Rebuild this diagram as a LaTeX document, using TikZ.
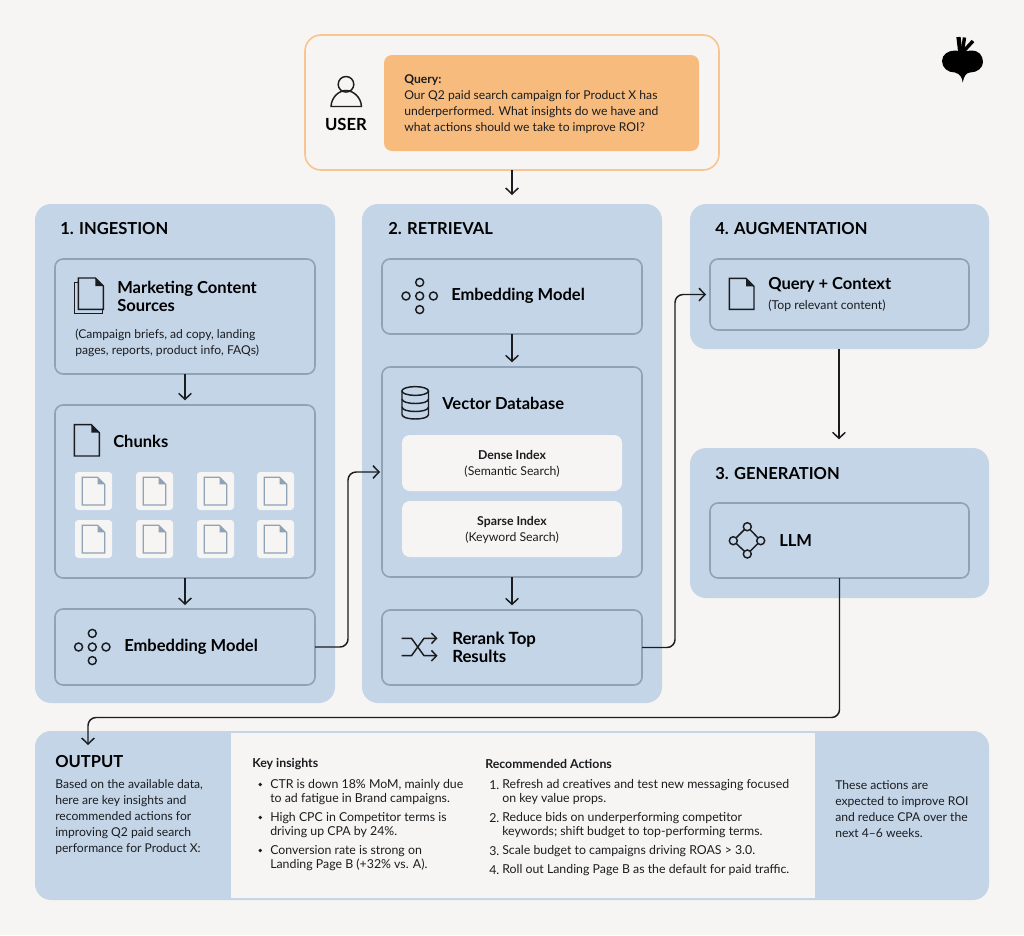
\documentclass[tikz,border=0pt]{standalone}
\usepackage{fontspec}
\setmainfont{Lato}
\usetikzlibrary{arrows.meta,shapes.geometric,calc}
\definecolor{bgc}{HTML}{F7F5F3}
\definecolor{panelc}{HTML}{C4D5E8}
\definecolor{edgec}{HTML}{8FA2B6}
\definecolor{inkc}{HTML}{1A1C1F}
\definecolor{orangec}{HTML}{F7BB7E}
\definecolor{orangeline}{HTML}{F9C48F}
\newcommand{\pbox}[6]{%
  \pgfmathsetmacro\bwd{(#4-#2)*0.75}\pgfmathsetmacro\bht{(#5-#3)*0.75}%
  \pgfmathsetmacro\bcx{(#2+#4)/2}\pgfmathsetmacro\bcy{(#3+#5)/2}%
  \node[#6,minimum width=\bwd pt,minimum height=\bht pt,inner sep=0pt,outer sep=0pt] (#1) at (\bcx,\bcy) {};}
% top-left x,y, width, height, fold, colour, line width, fill
\newcommand{\docicon}[8]{%
  \draw[draw=#6,line width=#7,fill=#8,line join=miter] (#1,#2) -- ++(#3-#5,0) -- ++(#5,#5) -- ++(0,#4-#5) -- ++(-#3,0) -- cycle;
  \fill[#6] (#1+#3-#5,#2) -- ++(#5,#5) -- ++(-#5,0) -- cycle;}
\newcommand{\embedicon}[2]{%
  \foreach \dx/\dy in {-13.7/0,0/0,13.7/0,0/-13.6,0/13.6}{\draw[icon] (#1+\dx,#2+\dy) circle[radius=4];}}
\tikzset{
  panel/.style={fill=panelc,draw=none,rounded corners=12pt},
  innerbox/.style={fill=panelc,draw=edgec,line width=1.2pt,rounded corners=6pt},
  softbox/.style={fill=bgc,draw=none,rounded corners=6pt},
  tile/.style={fill=bgc,draw=none,rounded corners=2.5pt},
  arr/.style={draw=inkc,line width=1.1pt,-{Straight Barb[length=4.5pt,width=9.5pt,line width=1.1pt]},rounded corners=6pt},
  icon/.style={draw=inkc,line width=1.1pt},
  head/.style={anchor=west,text=black,inner sep=0pt,font=\fontsize{12.4pt}{14pt}\selectfont\bfseries},
  sub/.style={anchor=west,text=inkc,inner sep=0pt,yshift=-0.75pt,align=left,font=\fontsize{9.1pt}{12pt}\selectfont},
  listt/.style={anchor=west,text=inkc,inner sep=0pt,yshift=-0.75pt,align=left,font=\fontsize{9.25pt}{10.5pt}\selectfont},
  small/.style={anchor=center,text=inkc,inner sep=0pt,yshift=-0.75pt,align=center,font=\fontsize{9.2pt}{12pt}\selectfont},
  x=0.75pt,y=-0.75pt
}
\begin{document}
\begin{tikzpicture}
\useasboundingbox (0,0) rectangle (1024,935);
\fill[bgc] (0,0) rectangle (1024,935);

% user
\pbox{user}{305}{35}{719}{170}{draw=orangeline,line width=1.2pt,fill=bgc,rounded corners=12pt}
\pbox{query}{384}{55}{699}{151}{fill=orangec,rounded corners=6pt}
\draw[icon] (346,84.3) circle[radius=7.8];
\draw[icon,line join=round] (331,106.5) -- (361.5,106.5) .. controls (361,97) and (353,90.5) .. (346,90.5) .. controls (339,90.5) and (331.5,97) .. (331,106.5) -- cycle;
\node[anchor=center,inner sep=0pt,text=black,font=\fontsize{12.5pt}{14pt}\selectfont\bfseries] (usertxt) at (346,124) {USER};
\node[sub] (querytxt) at (404,103) {\textbf{Query:}\\Our Q2 paid search campaign for Product X has\\underperformed. What insights do we have and\\what actions should we take to improve ROI?};

% logo
\fill[black] (962.7,82.5) .. controls (962,77) and (960,74) .. (955,72.5) .. controls (948,72.5) and (942,68) .. (942,61) .. controls (942,54) and (949,50.5) .. (955,50.5) .. controls (958,50.5) and (960,51.5) .. (962.5,52) .. controls (965,51.5) and (969,50.5) .. (972,50.5) .. controls (978,50.5) and (983,55) .. (983,62) .. controls (983,68) and (977,72.5) .. (970,72.5) .. controls (966,73) and (964,76) .. (962.7,82.5) -- cycle;
\draw[black,line width=3.2pt] (960.5,54) -- (958.5,37);
\draw[black,line width=2.6pt] (962.5,51) -- (964.5,37.5);
\draw[black,line width=2.6pt] (962,53) -- (973,41);

% panels
\pbox{pingest}{35}{204}{335}{703}{panel}
\pbox{pretr}{362}{204}{662}{703}{panel}
\pbox{paug}{690}{204}{989}{349}{panel}
\pbox{pgen}{690}{448}{989}{598}{panel}
\pbox{pout}{35}{731}{989}{900}{panel}
\pbox{pwhite}{231}{733}{815}{898}{fill=bgc}

\node[head] (t1) at (60,229) {1. INGESTION};
\node[head] (t2) at (388,229) {2. RETRIEVAL};
\node[head] (t4) at (715,229) {4. AUGMENTATION};
\node[head] (t3) at (715,474) {3. GENERATION};

% ingestion
\pbox{mkt}{55}{259}{315}{374}{innerbox}
\pbox{chunks}{55}{405}{315}{578}{innerbox}
\pbox{embA}{55}{609}{315}{685}{innerbox}
\draw[icon,line join=miter] (78.3,282.5) -- (74.3,282.5) -- (74.3,313.5) -- (102.7,313.5) -- (102.7,309.3);
\docicon{78.3}{278}{25}{31.3}{8}{inkc}{1.1pt}{panelc}
\node[head,align=left,font=\fontsize{12.4pt}{13.6pt}\selectfont\bfseries] (mkttxt) at (117,296) {Marketing Content\\Sources};
\node[sub] (mktsub) at (75,342) {(Campaign briefs, ad copy, landing\\pages, reports, product info, FAQs)};
\docicon{74.3}{424.7}{25}{31.3}{8}{inkc}{1.1pt}{panelc}
\node[head] (chunkstxt) at (113,441) {Chunks};
\foreach \cx in {75,136,197,257}{\foreach \cy in {472,520}{
  \fill[tile] (\cx,\cy) rectangle ++(37,38);
  \docicon{\cx+7.3}{\cy+5.3}{22.4}{27.7}{7}{edgec}{0.9pt}{bgc}
}}
\embedicon{92.3}{647}
\node[head] (embAtxt) at (124,647) {Embedding Model};

% retrieval
\pbox{embB}{382}{259}{642}{334}{innerbox}
\pbox{vec}{382}{367}{642}{577}{innerbox}
\pbox{rr}{382}{610}{642}{685}{innerbox}
\embedicon{419.7}{296}
\node[head] (embBtxt) at (451,296) {Embedding Model};
\draw[icon] (402,391) -- (402,414.5) .. controls (402,420.5) and (428.5,420.5) .. (428.5,414.5) -- (428.5,391);
\draw[icon] (415.2,391) ellipse[x radius=13.3,y radius=4.4];
\draw[icon] (402,399) .. controls (402,405) and (428.5,405) .. (428.5,399);
\draw[icon] (402,407) .. controls (402,413) and (428.5,413) .. (428.5,407);
\node[head] (vectxt) at (442,403) {Vector Database};
\pbox{dense}{402}{435}{622}{491}{softbox}
\pbox{sparse}{402}{501}{622}{557}{softbox}
\node[small] (densetxt) at (512,463) {\textbf{Dense Index}\\(Semantic Search)};
\node[small] (sparsetxt) at (512,529) {\textbf{Sparse Index}\\(Keyword Search)};
\draw[icon,line join=round,-{Straight Barb[length=3.8pt,width=8pt,line width=1.1pt]}] (401.7,638.3) -- (411.5,638.3) -- (424,655.7) -- (437.5,655.7);
\draw[icon,line join=round,-{Straight Barb[length=3.8pt,width=8pt,line width=1.1pt]}] (401.7,655.7) -- (411.5,655.7) -- (424,638.3) -- (437.5,638.3);
\node[head,align=left,font=\fontsize{12.6pt}{13.6pt}\selectfont\bfseries] (rrtxt) at (452,647) {Rerank Top\\Results};

% augmentation
\pbox{qc}{710}{259}{969}{330}{innerbox}
\docicon{729.3}{278.3}{24.7}{31}{8}{inkc}{1.1pt}{panelc}
\node[head] (qctxt) at (768,285) {Query + Context};
\node[sub,font=\fontsize{9.2pt}{10pt}\selectfont] (qcsub) at (768,305) {(Top relevant content)};

% generation
\pbox{llm}{710}{503}{969}{578}{innerbox}
\draw[icon] (747.3,526.7) -- (733.3,540.7) -- (747.3,554) -- (760.7,540.7) -- cycle;
\foreach \lx/\ly in {747.3/526.7,733.3/540.7,760.7/540.7,747.3/554}{\draw[icon,fill=panelc] (\lx,\ly) circle[radius=4];}
\node[head] (llmtxt) at (779,541) {LLM};

% connectors
\coordinate (userEnd) at (512,195);
\coordinate (outEnd) at (88,745);
\draw[arr] (user.south) -- (userEnd);
\draw[arr,shorten >=3.5pt] (mkt.south) -- (chunks.north);
\draw[arr,shorten >=3pt] (chunks.south) -- (embA.north);
\draw[arr,shorten >=1.5pt] (embA.east) -- ++(33,0) |- (vec.west);
\draw[arr,shorten >=3.5pt] (embB.south) -- (vec.north);
\draw[arr,shorten >=3.5pt] (vec.south) -- (rr.north);
\draw[arr,shorten >=3pt] (rr.east) -- ++(33,0) |- (qc.west);
\draw[arr,shorten >=6.5pt] ([xshift=-0.4pt]paug.south) -- ([xshift=-0.4pt]pgen.north);
\draw[arr] (llm.south) -- ++(0,139.5) -| (outEnd);

% output
\node[head] (outtitle) at (55,762) {OUTPUT};
\node[sub] (outtxt) at (55,816) {Based on the available data,\\here are key insights and\\recommended actions for\\improving Q2 paid search\\performance for Product X:};
\node[anchor=west,inner sep=0pt,text=inkc,yshift=-0.75pt,font=\fontsize{9.25pt}{10pt}\selectfont\bfseries] (kitxt) at (252,763) {Key insights};
\node[anchor=west,inner sep=0pt,text=inkc,yshift=-0.75pt,font=\fontsize{9.25pt}{10pt}\selectfont\bfseries] (ratxt) at (485,763) {Recommended Actions};
\foreach \by in {791,824,857}{\fill[inkc] (260.3,\by-6.5) circle[radius=1.9];}
\node[listt] (b1) at (270,791) {CTR is down 18\% MoM, mainly due\\to ad fatigue in Brand campaigns.};
\node[listt] (b2) at (270,824) {High CPC in Competitor terms is\\driving up CPA by 24\%.};
\node[listt] (b3) at (270,857) {Conversion rate is strong on\\Landing Page B (+32\% vs. A).};
\node[listt] (n1) at (489,784) {1.};
\node[listt] (n2) at (489,817) {2.};
\node[listt] (n3) at (489,850) {3.};
\node[listt] (n4) at (489,869) {4.};
\node[listt] (r1) at (502,791) {Refresh ad creatives and test new messaging focused\\on key value props.};
\node[listt] (r2) at (502,824) {Reduce bids on underperforming competitor\\keywords; shift budget to top-performing terms.};
\node[listt] (r3) at (502,850) {Scale budget to campaigns driving ROAS > 3.0.};
\node[listt] (r4) at (502,869) {Roll out Landing Page B as the default for paid traffic.};
\node[sub] (endtxt) at (835,808) {These actions are\\expected to improve ROI\\and reduce CPA over the\\next 4--6 weeks.};
\end{tikzpicture}
\end{document}
